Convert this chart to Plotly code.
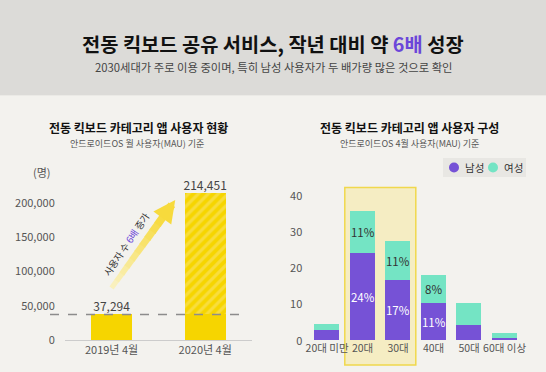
import plotly.graph_objects as go

# ---------------- data ----------------
years = ["2019년 4월", "2020년 4월"]
users = [37294, 214451]

ages = ["20대 미만", "20대", "30대", "40대", "50대", "60대 이상"]
male = [2.8, 24.2, 16.7, 10.4, 4.1, 0.6]
female = [1.7, 11.5, 10.8, 7.7, 6.3, 1.5]
male_labels = ["", "24%", "17%", "11%", "", ""]
female_labels = ["", "11%", "11%", "8%", "", ""]
series_names = ["남성", "여성"]

# ---------------- style ----------------
FONT = "Noto Sans CJK KR, sans-serif"
W, H = 546, 372
YELLOW = "#f6d500"
YELLOW_LIGHT = "#f9e679"
PURPLE = "#7652d6"
MINT = "#74e4c4"
HILITE = "#6b46d9"
BG = "#f3f2ee"
HEADER = "#dcdbd8"

def px_x(p):
    return p / W

def px_y(p):
    return 1 - p / H

def label(x, y, text, size, color, bold=False, **kw):
    d = dict(x=x, y=y, xref="paper", yref="paper", showarrow=False, xanchor="center", yanchor="middle",
             text=text, font=dict(size=size, color=color, family=FONT, weight="bold" if bold else "normal"))
    d.update(kw)
    return d

fig = go.Figure()

# ----- left chart: users -----
base_part = [min(v, users[0]) for v in users]
growth_part = [v - b for v, b in zip(users, base_part)]
fig.add_trace(go.Bar(x=years, y=base_part, marker=dict(color=YELLOW, line=dict(width=0)),
                     width=0.44, xaxis="x", yaxis="y", showlegend=False, hoverinfo="skip"))
fig.add_trace(go.Bar(x=years, y=growth_part,
                     marker=dict(color=YELLOW, line=dict(width=0),
                                 pattern=dict(shape="/", fgcolor=YELLOW_LIGHT, bgcolor=YELLOW,
                                              size=7, solidity=0.45)),
                     width=0.44, xaxis="x", yaxis="y", showlegend=False, hoverinfo="skip"))
fig.add_trace(go.Scatter(x=years, y=users, mode="text", text=[f"{v:,}" for v in users],
                         textposition="top center", textfont=dict(size=12, color="#444"),
                         xaxis="x", yaxis="y", showlegend=False, cliponaxis=False, hoverinfo="skip"))

# ----- right chart: composition -----
fig.add_trace(go.Bar(x=ages, y=male, name=series_names[0], marker=dict(color=PURPLE, line=dict(width=0)),
                     text=male_labels, textposition="inside", insidetextanchor="middle", textangle=0,
                     textfont=dict(size=11.5, color="white"), constraintext="none",
                     width=0.7, xaxis="x2", yaxis="y2", showlegend=False, hoverinfo="skip"))
fig.add_trace(go.Bar(x=ages, y=female, name=series_names[1], marker=dict(color=MINT, line=dict(width=0)),
                     text=female_labels, textposition="inside", insidetextanchor="middle", textangle=0,
                     textfont=dict(size=11.5, color="#333"), constraintext="none",
                     width=0.7, xaxis="x2", yaxis="y2", showlegend=False, hoverinfo="skip"))

shapes = []
annotations = []

# header band
shapes.append(dict(type="rect", xref="paper", yref="paper", x0=0, x1=1, y0=px_y(95), y1=1,
                   fillcolor=HEADER, line=dict(width=0), layer="below"))
shapes.append(dict(type="line", xref="paper", yref="paper", x0=0, x1=1, y0=px_y(95.5), y1=px_y(95.5),
                   line=dict(color="#ebeae6", width=1), layer="below"))

# highlight box (20대, 30대)
shapes.append(dict(type="rect", xref="x2", yref="paper", x0=0.5, x1=2.5, y0=px_y(365), y1=px_y(187.5),
                   fillcolor="#f5edc3", line=dict(color="#f0d84c", width=1.5), layer="below"))

# dashed reference line at 2019 value
shapes.append(dict(type="line", xref="paper", yref="y", x0=px_x(50), x1=px_x(247), y0=users[0], y1=users[0],
                   line=dict(color="#8c8c8c", width=1.3, dash="dash"), layer="above"))

# gradient arrow shaft
tail = (0.0, 76000)
tip = (0.68, 204500)
n_seg = 10
c0 = (250, 242, 196)
c1 = (247, 218, 60)
split = 0.8
for i in range(n_seg):
    t0 = split * i / n_seg
    t1 = split * (i + 1) / n_seg
    tm = (t0 + t1) / 2 / split
    col = tuple(int(c0[k] + (c1[k] - c0[k]) * tm) for k in range(3))
    shapes.append(dict(type="line", xref="x", yref="y",
                       x0=tail[0] + (tip[0] - tail[0]) * t0, y0=tail[1] + (tip[1] - tail[1]) * t0,
                       x1=tail[0] + (tip[0] - tail[0]) * (t1 + 0.01), y1=tail[1] + (tip[1] - tail[1]) * (t1 + 0.01),
                       line=dict(color=f"rgb{col}", width=5 + 3 * tm), layer="above"))
mid = (tail[0] + (tip[0] - tail[0]) * split, tail[1] + (tip[1] - tail[1]) * split)
annotations.append(dict(x=tip[0], y=tip[1], xref="x", yref="y", ax=mid[0], ay=mid[1], axref="x", ayref="y",
                        text="", showarrow=True, arrowhead=2, arrowsize=0.55, arrowwidth=8,
                        arrowcolor="rgb(247,218,60)", standoff=0, startstandoff=0))
annotations.append(dict(x=0.16, y=140000, xref="x", yref="y", showarrow=False, textangle=-56,
                        xanchor="center", yanchor="middle",
                        text=f"사용자 수 <span style='color:{HILITE}'>6배</span> 증가",
                        font=dict(size=9.5, color="#333", family=FONT)))

# unit label
annotations.append(label(px_x(42), px_y(172), "(명)", 11, "#555"))

# titles
annotations.append(label(0.5, px_y(43),
                         f"전동 킥보드 공유 서비스, 작년 대비 약 <span style='color:{HILITE}'>6배</span> 성장",
                         19.8, "#111", bold=True))
annotations.append(label(0.5, px_y(67),
                         "2030세대가 주로 이용 중이며, 특히 남성 사용자가 두 배가량 많은 것으로 확인",
                         11.3, "#444"))
annotations.append(label(px_x(138), px_y(127.5), "전동 킥보드 카테고리 앱 사용자 현황", 12, "#111", bold=True))
annotations.append(label(px_x(137), px_y(143.5), "안드로이드OS 월 사용자(MAU) 기준", 9, "#555"))
annotations.append(label(px_x(409), px_y(127.5), "전동 킥보드 카테고리 앱 사용자 구성", 12, "#111", bold=True))
annotations.append(label(px_x(409), px_y(143.5), "안드로이드OS 4월 사용자(MAU) 기준", 9, "#555"))

# manual legend
shapes.append(dict(type="rect", xref="paper", yref="paper", x0=px_x(443), x1=px_x(526),
                   y0=px_y(177), y1=px_y(158), fillcolor="#e8e7e3", line=dict(width=0), layer="below"))
for name, col, cx in zip(series_names, [PURPLE, MINT], [454, 493]):
    shapes.append(dict(type="circle", xref="paper", yref="paper",
                       x0=px_x(cx - 5), x1=px_x(cx + 5), y0=px_y(172.5), y1=px_y(162.5),
                       fillcolor=col, line=dict(width=0)))
    annotations.append(label(px_x(cx + 9), px_y(167.5), name, 10.5, "#333", xanchor="left"))

fig.update_layout(
    width=W, height=H, margin=dict(l=0, r=0, t=0, b=0, autoexpand=False),
    paper_bgcolor=BG, plot_bgcolor="rgba(0,0,0,0)",
    font=dict(family=FONT, size=11, color="#555"),
    barmode="stack", bargap=0,
    shapes=shapes, annotations=annotations,
    xaxis=dict(domain=[px_x(64.75), px_x(252)], range=[-0.5, 1.5], type="category", automargin=False,
               showgrid=False, zeroline=False, showline=True, linecolor="#cccccc", linewidth=1,
               tickfont=dict(size=11, color="#555"), ticks="", tickangle=0, fixedrange=True),
    yaxis=dict(domain=[px_y(340), px_y(169)], range=[0, 250000], automargin=False,
               tickvals=[0, 50000, 100000, 150000, 200000], tickformat=",d",
               showgrid=False, zeroline=False, showline=False, ticklabelstandoff=9,
               tickfont=dict(size=11, color="#555")),
    xaxis2=dict(domain=[px_x(309.3), px_x(522.3)], range=[-0.5, 5.5], type="category", anchor="y2",
                automargin=False, showgrid=False, zeroline=False, showline=False, ticks="", tickangle=0,
                tickfont=dict(size=10.5, color="#555")),
    yaxis2=dict(domain=[px_y(340.7), px_y(188.45)], range=[0, 42], anchor="x2", automargin=False,
                tickvals=[0, 10, 20, 30, 40], showgrid=False, zeroline=False, showline=False,
                ticklabelstandoff=6, tickfont=dict(size=11, color="#555")),
)

fig.write_html("out.html", config={"displayModeBar": False},
               post_script="document.body.style.margin='0';")
